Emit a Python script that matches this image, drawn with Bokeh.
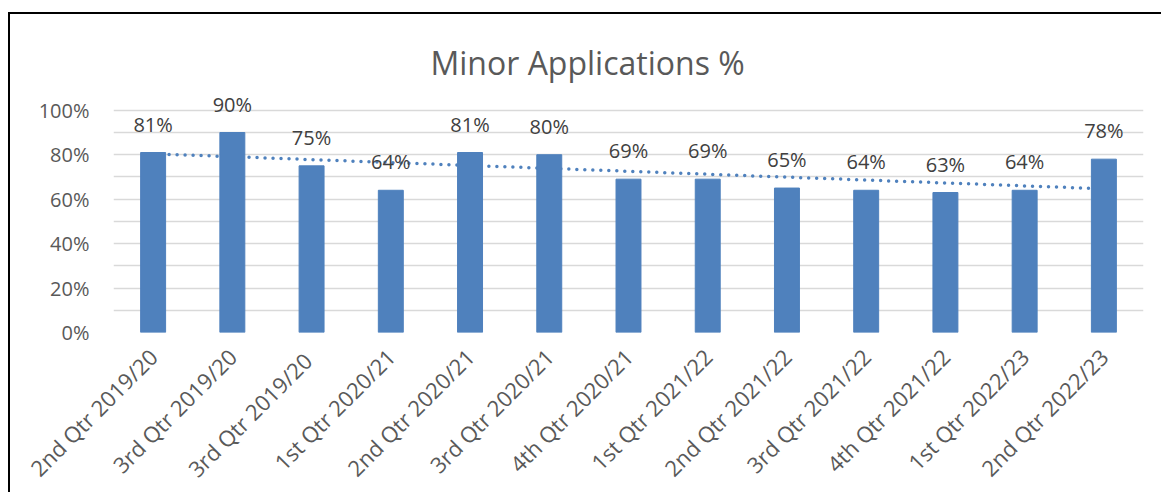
import numpy as np
from bokeh.plotting import figure
from bokeh.models import ColumnDataSource, FactorRange, Range1d, FixedTicker, NumeralTickFormatter, LabelSet
from bokeh.core.properties import value
from bokeh.embed import file_html
from bokeh.resources import INLINE

categories = ["2nd Qtr 2019/20", "3rd Qtr 2019/20", "3rd Qtr 2019/20 ", "1st Qtr 2020/21",
              "2nd Qtr 2020/21", "3rd Qtr 2020/21", "4th Qtr 2020/21", "1st Qtr 2021/22",
              "2nd Qtr 2021/22", "3rd Qtr 2021/22", "4th Qtr 2021/22", "1st Qtr 2022/23",
              "2nd Qtr 2022/23"]
values = [0.81, 0.90, 0.75, 0.64, 0.81, 0.80, 0.69, 0.69, 0.65, 0.64, 0.63, 0.64, 0.78]
y_ticks = [0, 0.2, 0.4, 0.6, 0.8, 1.0]
y_minor = [0.1, 0.3, 0.5, 0.7, 0.9]

BAR = "#4F81BD"
GRID = "#D9D9D9"
FONT = "Open Sans"

labels = ["%d%%" % round(v * 100) for v in values]
src = ColumnDataSource(dict(x=categories, y=values, label=labels))

Y_TOP = 1.08
p = figure(x_range=FactorRange(*categories, range_padding=0), y_range=Range1d(0, Y_TOP),
           frame_width=1030, frame_height=int(round(222 * Y_TOP)),
           min_border_left=103, min_border_right=18, min_border_top=78, min_border_bottom=160,
           output_backend="svg", toolbar_location=None,
           title="Minor Applications %")
p.styles = {"border-left": "2px solid black", "border-top": "2px solid black",
            "margin-left": "8px", "margin-top": "12px"}

p.title.align = "left"
p.title.offset = 317
p.title.text_font = FONT
p.title.text_font_size = "32px"
p.title.text_font_style = "normal"
p.title.text_color = "#595959"
p.title.standoff = 18

# trendline (linear least squares on the data)
idx = np.arange(len(values))
k, b = np.polyfit(idx, values, 1)
p.line(x=[categories[0], categories[-1]], y=[b, k * idx[-1] + b], line_color=BAR,
       line_width=3.5, line_dash="0 8", line_cap="round")

p.vbar(x="x", top="y", width=0.315, source=src, color=BAR)

p.add_layout(LabelSet(x="x", y="y", text="label", source=src, text_align="center",
                      text_baseline="bottom", y_offset=15, text_font=value(FONT),
                      text_font_size="20px", text_color="#404040"))

p.xgrid.grid_line_color = None
p.ygrid.ticker = FixedTicker(ticks=y_ticks, minor_ticks=y_minor)
p.ygrid.grid_line_color = GRID
p.ygrid.grid_line_width = 1.5
p.ygrid.minor_grid_line_color = GRID
p.ygrid.minor_grid_line_width = 1.5

p.yaxis.ticker = FixedTicker(ticks=y_ticks)
p.yaxis.formatter = NumeralTickFormatter(format="0%")
for ax in (p.xaxis[0], p.yaxis[0]):
    ax.axis_line_color = None
    ax.major_tick_line_color = None
    ax.minor_tick_line_color = None
    ax.major_label_text_font = FONT
    ax.major_label_text_color = "#595959"
p.yaxis.major_label_text_font_size = "20px"
p.xaxis.major_label_text_font_size = "22px"
p.yaxis.major_label_standoff = 18
p.xaxis.major_label_orientation = np.pi / 4
p.xaxis.major_label_standoff = 14
p.outline_line_color = None

open("out.html", "w").write(file_html(p, INLINE))
